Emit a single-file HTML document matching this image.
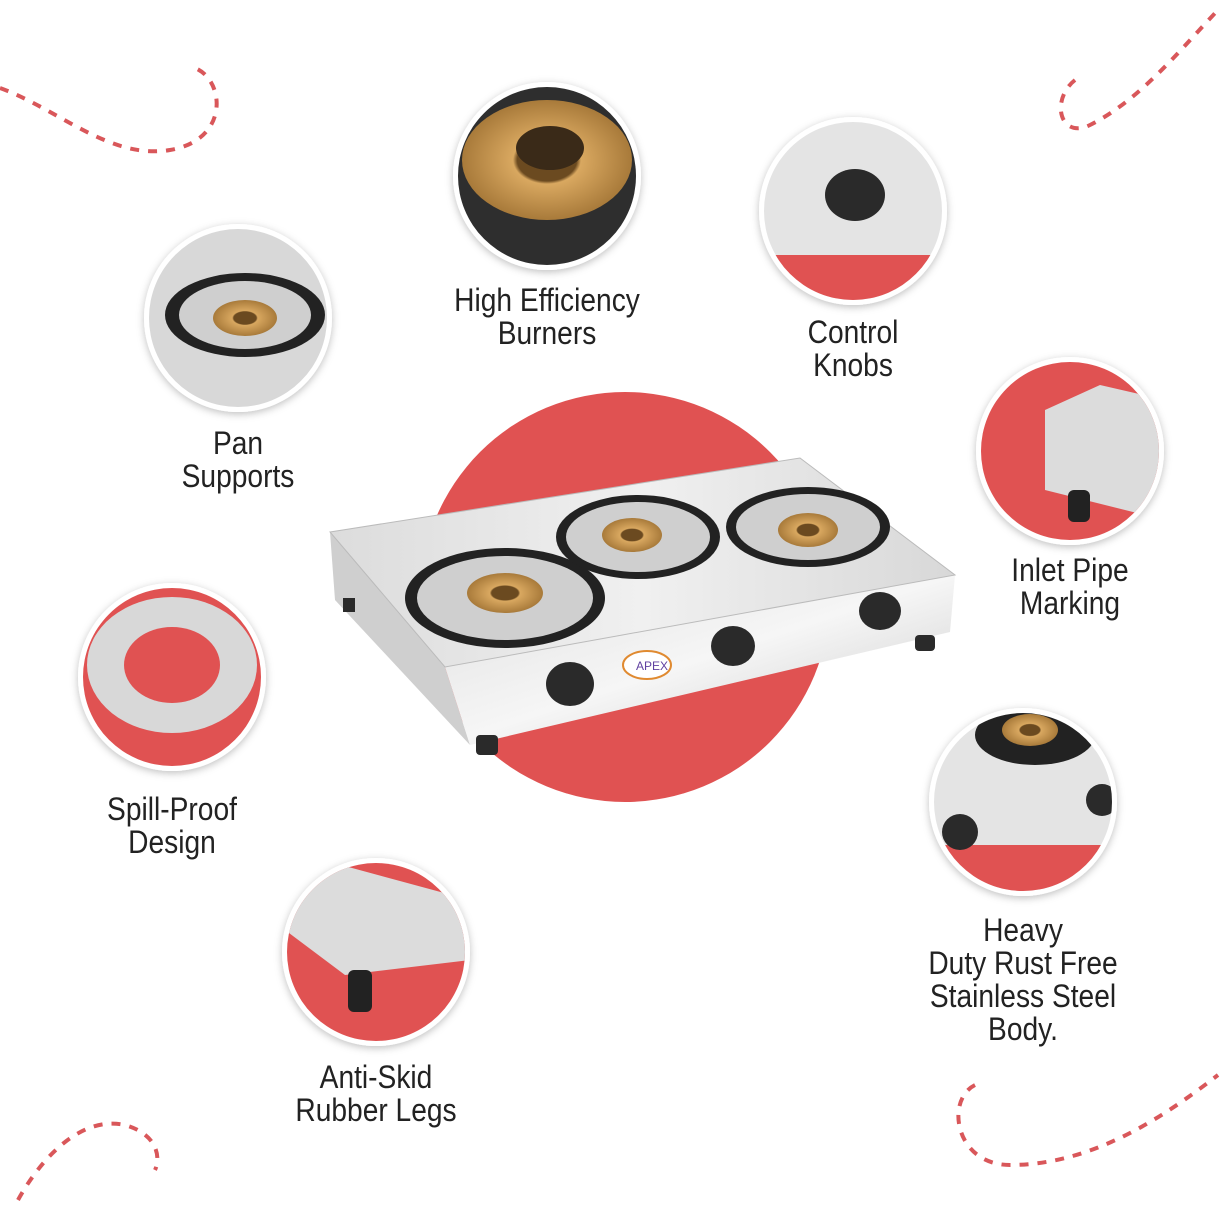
<!DOCTYPE html>
<html><head><meta charset="utf-8"><style>
body{margin:0;width:1222px;height:1222px;background:#fff;overflow:hidden;position:relative;font-family:"Liberation Sans",sans-serif}
.l{position:absolute;text-align:center;font-size:32px;line-height:33px;color:#222;transform:translateX(-50%) scaleX(0.88);white-space:nowrap}
</style></head><body>
<svg width="1222" height="1222" style="position:absolute;left:0;top:0">
<defs>
<linearGradient id="st" x1="0" y1="0" x2="1" y2="1"><stop offset="0" stop-color="#e0e0e0"/><stop offset=".5" stop-color="#f6f6f6"/><stop offset="1" stop-color="#c8c8c8"/></linearGradient>
<linearGradient id="tp" x1="0" y1="0" x2="1" y2="0"><stop offset="0" stop-color="#dcdcdc"/><stop offset=".5" stop-color="#f0f0f0"/><stop offset="1" stop-color="#d8d8d8"/></linearGradient>
<radialGradient id="br"><stop offset=".35" stop-color="#6b4a20"/><stop offset=".4" stop-color="#d9a860"/><stop offset="1" stop-color="#a87a3a"/></radialGradient>
<filter id="sh" x="-20%" y="-20%" width="140%" height="140%"><feDropShadow dx="0" dy="2" stdDeviation="4" flood-opacity=".25"/></filter>
</defs>
<g fill="none" stroke="#d9575a" stroke-width="4" stroke-dasharray="9 9">
<path d="M0 88 C60 110 110 160 170 150 C230 140 225 80 195 68"/>
<path d="M1075 80 C1050 100 1060 140 1090 125 C1140 100 1180 50 1218 10"/>
<path d="M18 1200 C40 1160 80 1115 125 1125 C160 1135 160 1160 155 1170"/>
<path d="M975 1085 C945 1100 955 1165 1010 1165 C1090 1165 1160 1120 1218 1075"/>
</g>
<circle cx="625" cy="597" r="205" fill="#e05252"/>
<polygon points="330,532 445,667 470,745 335,600" fill="#cfcfcf"/>
<polygon points="445,667 955,575 950,632 470,745" fill="url(#st)"/>
<polygon points="330,532 800,458 955,575 445,667" fill="url(#tp)" stroke="#bbb"/>
<g>
<ellipse cx="505" cy="598" rx="100" ry="50" fill="#222"/><ellipse cx="505" cy="598" rx="88" ry="42" fill="#cfcfcf"/><ellipse cx="505" cy="593" rx="38" ry="20" fill="url(#br)"/>
<ellipse cx="638" cy="537" rx="82" ry="42" fill="#222"/><ellipse cx="638" cy="537" rx="72" ry="35" fill="#cfcfcf"/><ellipse cx="632" cy="535" rx="30" ry="17" fill="url(#br)"/>
<ellipse cx="808" cy="527" rx="82" ry="40" fill="#222"/><ellipse cx="808" cy="527" rx="72" ry="33" fill="#cfcfcf"/><ellipse cx="808" cy="530" rx="30" ry="17" fill="url(#br)"/>
</g>
<g fill="#2a2a2a"><ellipse cx="570" cy="684" rx="24" ry="22"/><ellipse cx="733" cy="646" rx="22" ry="20"/><ellipse cx="880" cy="611" rx="21" ry="19"/>
<rect x="476" y="735" width="22" height="20" rx="4"/><rect x="343" y="598" width="12" height="14"/><rect x="915" y="635" width="20" height="16" rx="4"/></g>
<ellipse cx="647" cy="665" rx="24" ry="14" fill="#fff" stroke="#e08a30" stroke-width="2"/>
<text x="636" y="670" font-size="12" fill="#6040a0" font-family="Liberation Sans">APEX</text>
<g filter="url(#sh)">
<circle cx="238" cy="318" r="94" fill="#fff"/><circle cx="547" cy="176" r="94" fill="#fff"/><circle cx="853" cy="211" r="94" fill="#fff"/>
<circle cx="1070" cy="451" r="94" fill="#fff"/><circle cx="172" cy="677" r="94" fill="#fff"/><circle cx="1023" cy="802" r="94" fill="#fff"/><circle cx="376" cy="952" r="94" fill="#fff"/>
</g>
<circle cx="238" cy="318" r="89" fill="#d8d8d8"/><ellipse cx="245" cy="315" rx="80" ry="42" fill="#222"/><ellipse cx="245" cy="315" rx="66" ry="34" fill="#cfcfcf"/><ellipse cx="245" cy="318" rx="32" ry="18" fill="url(#br)"/>
<circle cx="547" cy="176" r="89" fill="#2e2e2e"/><ellipse cx="547" cy="160" rx="85" ry="60" fill="url(#br)"/><ellipse cx="550" cy="148" rx="34" ry="22" fill="#3a2a18"/>
<clipPath id="c3"><circle cx="853" cy="211" r="89"/></clipPath>
<g clip-path="url(#c3)"><rect x="760" y="120" width="190" height="190" fill="#e4e4e4"/><polygon points="760,255 950,255 950,310 760,310" fill="#e05252"/><ellipse cx="855" cy="195" rx="30" ry="26" fill="#2a2a2a"/></g>
<clipPath id="c4"><circle cx="1070" cy="451" r="89"/></clipPath>
<g clip-path="url(#c4)"><rect x="980" y="360" width="190" height="190" fill="#e05252"/><polygon points="1045,410 1100,385 1165,400 1165,520 1045,490" fill="#dcdcdc"/><rect x="1068" y="490" width="22" height="32" rx="6" fill="#222"/></g>
<clipPath id="c5"><circle cx="172" cy="677" r="89"/></clipPath>
<g clip-path="url(#c5)"><rect x="80" y="585" width="190" height="190" fill="#e05252"/><ellipse cx="172" cy="665" rx="85" ry="68" fill="#d8d8d8"/><ellipse cx="172" cy="665" rx="48" ry="38" fill="#e05252"/></g>
<clipPath id="c6"><circle cx="1023" cy="802" r="89"/></clipPath>
<g clip-path="url(#c6)"><rect x="930" y="710" width="190" height="190" fill="#e4e4e4"/><rect x="930" y="845" width="190" height="60" fill="#e05252"/><ellipse cx="1035" cy="735" rx="60" ry="30" fill="#222"/><ellipse cx="1030" cy="730" rx="28" ry="16" fill="url(#br)"/><circle cx="960" cy="832" r="18" fill="#2a2a2a"/><circle cx="1102" cy="800" r="16" fill="#2a2a2a"/></g>
<clipPath id="c7"><circle cx="376" cy="952" r="89"/></clipPath>
<g clip-path="url(#c7)"><rect x="285" y="860" width="190" height="190" fill="#e05252"/><polygon points="285,870 330,862 470,900 470,960 345,975 285,930" fill="#dcdcdc"/><rect x="348" y="970" width="24" height="42" rx="6" fill="#222"/></g>
</svg>
<div class="l" style="left:238px;top:427px">Pan<br>Supports</div>
<div class="l" style="left:547px;top:284px">High Efficiency<br>Burners</div>
<div class="l" style="left:853px;top:316px">Control<br>Knobs</div>
<div class="l" style="left:1070px;top:554px">Inlet Pipe<br>Marking</div>
<div class="l" style="left:172px;top:793px">Spill-Proof<br>Design</div>
<div class="l" style="left:1023px;top:914px">Heavy<br>Duty Rust Free<br>Stainless Steel<br>Body.</div>
<div class="l" style="left:376px;top:1061px">Anti-Skid<br>Rubber Legs</div>
</body></html>
